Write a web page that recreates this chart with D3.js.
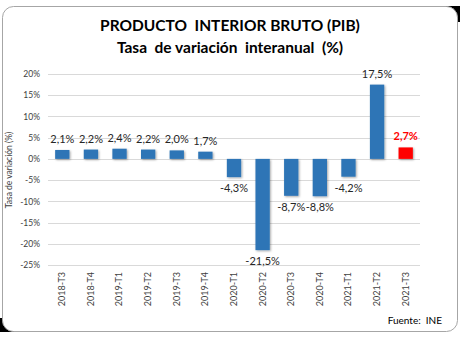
<!DOCTYPE html>
<html>
<head>
<meta charset="utf-8">
<script src="https://cdn.jsdelivr.net/npm/d3@7"></script>
<style>
  body { margin: 0; background: #fff; }
  text { font-family: Lato, "Open Sans", sans-serif; }
</style>
</head>
<body>
<script>
// Data
var categories = ["2018-T3", "2018-T4", "2019-T1", "2019-T2", "2019-T3", "2019-T4",
                  "2020-T1", "2020-T2", "2020-T3", "2020-T4", "2021-T1", "2021-T2", "2021-T3"];
var values = [2.1, 2.2, 2.4, 2.2, 2.0, 1.7, -4.3, -21.5, -8.7, -8.8, -4.2, 17.5, 2.7];
var yTicks = [20, 15, 10, 5, 0, -5, -10, -15, -20, -25];

var w = 460;
var h = 340;

var svg = d3.select("body")
            .append("svg")
            .attr("width", w)
            .attr("height", h);

// shadow for bars
var defs = svg.append("defs");
var f = defs.append("filter").attr("id", "shadow")
            .attr("x", "-30%").attr("y", "-30%").attr("width", "160%").attr("height", "160%");
f.append("feDropShadow")
  .attr("dx", 1).attr("dy", 1).attr("stdDeviation", 0.8)
  .attr("flood-color", "#000").attr("flood-opacity", 0.35);

// black bits behind the rounded corners
svg.append("rect").attr("x", 444).attr("y", 6).attr("width", 16).attr("height", 16).attr("fill", "#000");
svg.append("rect").attr("x", 0).attr("y", 318).attr("width", 14).attr("height", 14).attr("fill", "#000");

// frame
svg.append("rect")
   .attr("x", 2.5).attr("y", 6.5)
   .attr("width", 455).attr("height", 325)
   .attr("rx", 11).attr("ry", 11)
   .attr("fill", "#fff")
   .attr("stroke", "#a6a6a6")
   .attr("stroke-width", 1);

// Scales
var x = d3.scaleBand()
          .domain(categories)
          .range([48, 420])
          .paddingInner(0.5)
          .paddingOuter(0.25);

var y = d3.scaleLinear()
          .domain([-25, 20])
          .range([265, 74]);

// gridlines
svg.append("g")
   .selectAll("line")
   .data(yTicks)
   .enter()
   .append("line")
   .attr("x1", 48)
   .attr("x2", 420)
   .attr("y1", function(d) { return Math.round(y(d)) + 0.5; })
   .attr("y2", function(d) { return Math.round(y(d)) + 0.5; })
   .attr("stroke", "#d9d9d9")
   .attr("stroke-width", 1);

// y axis labels
var yAxis = d3.axisLeft(y)
              .tickValues(yTicks)
              .tickSize(0)
              .tickPadding(0)
              .tickFormat(function(d) { return d + "%"; });

var gy = svg.append("g")
            .attr("transform", "translate(40,0)")
            .call(yAxis);
gy.select(".domain").remove();
gy.selectAll("text")
  .attr("fill", "#404040")
  .style("font-size", "8.5px")
  .style("font-family", "Lato, sans-serif");

// y axis title
svg.append("text")
   .attr("transform", "translate(12,170) rotate(-90)")
   .attr("text-anchor", "middle")
   .attr("fill", "#404040")
   .style("font-size", "8.5px")
   .text("Tasa de variación (%)");

// x axis labels
var xAxis = d3.axisBottom(x).tickSize(0).tickPadding(0);
var gx = svg.append("g")
            .attr("transform", "translate(0,272)")
            .call(xAxis);
gx.select(".domain").remove();
gx.selectAll("text")
  .attr("transform", "rotate(-90)")
  .attr("x", 0)
  .attr("y", 0)
  .attr("dy", "0.32em")
  .attr("text-anchor", "end")
  .attr("fill", "#404040")
  .style("font-size", "9px")
  .style("font-family", "Lato, sans-serif");

// bars
svg.append("g")
   .selectAll("rect")
   .data(values)
   .enter()
   .append("rect")
   .attr("x", function(d, i) { return x(categories[i]); })
   .attr("y", function(d) { return y(Math.max(0, d)); })
   .attr("width", x.bandwidth())
   .attr("height", function(d) { return Math.abs(y(d) - y(0)); })
   .attr("fill", function(d, i) { return i == values.length - 1 ? "#ff0000" : "#2e75b6"; })
   .attr("filter", "url(#shadow)");

// data labels
svg.append("g")
   .selectAll("text")
   .data(values)
   .enter()
   .append("text")
   .attr("x", function(d, i) { return x(categories[i]) + x.bandwidth() / 2; })
   .attr("y", function(d) { return d >= 0 ? y(d) - 7 : y(d) + 15; })
   .attr("text-anchor", "middle")
   .attr("fill", function(d, i) { return i == values.length - 1 ? "#ff0000" : "#262626"; })
   .style("font-size", "11px")
   .style("font-weight", function(d, i) { return i == values.length - 1 ? "bold" : "normal"; })
   .text(function(d) { return d.toFixed(1).replace(".", ",") + "%"; });

// titles (keep the double spaces)
svg.append("text")
   .attr("x", 230).attr("y", 31)
   .attr("text-anchor", "middle")
   .attr("fill", "#000")
   .style("font-size", "15.5px")
   .style("font-weight", "bold")
   .style("white-space", "pre")
   .text("PRODUCTO  INTERIOR BRUTO (PIB)");

svg.append("text")
   .attr("x", 230).attr("y", 53)
   .attr("text-anchor", "middle")
   .attr("fill", "#000")
   .style("font-size", "15.5px")
   .style("font-weight", "bold")
   .style("white-space", "pre")
   .text("Tasa  de variación  interanual  (%)");

// source
svg.append("text")
   .attr("x", 442).attr("y", 324)
   .attr("text-anchor", "end")
   .attr("fill", "#000")
   .style("font-size", "10px")
   .style("white-space", "pre")
   .text("Fuente:  INE");
</script>
</body>
</html>
